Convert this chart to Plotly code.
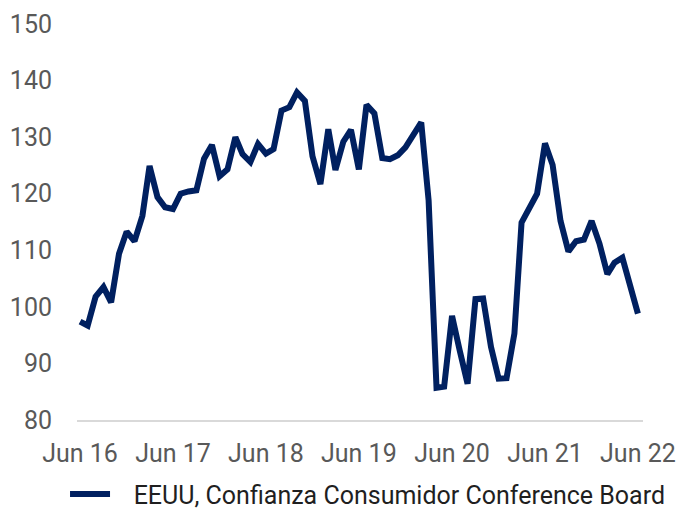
import plotly.graph_objects as go
import pandas as pd

months = pd.date_range("2016-06-01", "2022-06-01", freq="MS")

confianza = [
    97.4, 96.7, 101.8, 103.5, 100.8, 109.4, 113.3,
    111.6, 116.1, 124.9, 119.4, 117.6, 117.3, 120.0, 120.4, 120.6, 126.2, 128.6, 123.1,
    124.3, 130.0, 127.0, 125.6, 128.8, 127.1, 127.9, 134.7, 135.3, 137.9, 136.4, 126.6,
    121.7, 131.4, 124.2, 129.2, 131.3, 124.3, 135.7, 134.2, 126.3, 126.1, 126.8, 128.2,
    130.4, 132.6, 118.8, 85.7, 85.9, 98.4, 92.3, 86.4, 101.4, 101.5, 92.9, 87.3,
    87.4, 95.3, 114.9, 117.5, 120.0, 128.9, 125.1, 115.2, 109.8, 111.6, 111.9, 115.2,
    111.2, 105.8, 107.8, 108.7, 103.4, 98.8,
]

tick_vals = pd.date_range("2016-06-01", "2022-06-01", freq="12MS")
tick_text = ["Jun 16", "Jun 17", "Jun 18", "Jun 19", "Jun 20", "Jun 21", "Jun 22"]
y_ticks = [80, 90, 100, 110, 120, 130, 140, 150]

series_name = "EEUU, Confianza Consumidor Conference Board"

fig = go.Figure()
fig.add_trace(go.Scatter(
    x=months, y=confianza, mode="lines",
    name="\u00a0\u00a0\u00a0" + series_name,
    line=dict(color="#002060", width=6),
))

font_family = "Roboto, Arial, sans-serif"

fig.update_layout(
    width=676, height=508,
    margin=dict(l=77, r=33, t=24, b=88, autoexpand=False),
    paper_bgcolor="white", plot_bgcolor="white",
    showlegend=True,
    legend=dict(
        orientation="h", xref="container", x=0.0962, xanchor="left",
        yref="container", y=0.027, yanchor="middle",
        font=dict(family=font_family, size=25, color="#1f1f1f"),
        itemwidth=40,
    ),
    xaxis=dict(
        range=["2016-05-20", "2022-06-21"],
        tickmode="array", tickvals=tick_vals, ticktext=tick_text,
        showgrid=False, zeroline=False, automargin=False,
        showline=True, linecolor="#d9d9d9", linewidth=1.5,
        ticks="", ticklabelstandoff=10, ticklabeloverflow="allow",
        tickfont=dict(family=font_family, size=25, color="#595959"),
    ),
    yaxis=dict(
        range=[80, 150], tickmode="array", tickvals=y_ticks,
        showgrid=False, zeroline=False, showline=False, automargin=False,
        ticks="", ticklabelstandoff=24,
        tickfont=dict(family=font_family, size=25, color="#595959"),
    ),
)

fig.write_html(
    "out.html",
    config={"displayModeBar": False},
    post_script="document.body.style.margin='0';document.body.style.overflow='hidden';",
)
